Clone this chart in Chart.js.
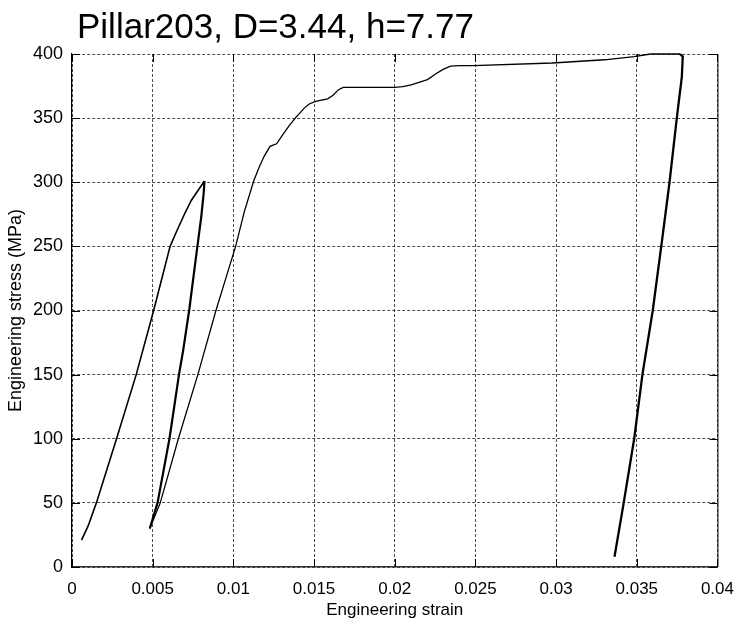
<!DOCTYPE html>
<html>
<head>
<meta charset="utf-8">
<script src="https://cdn.jsdelivr.net/npm/chart.js@4/dist/chart.umd.min.js"></script>
<style>
  html, body { margin: 0; padding: 0; background: #fff; }
  #wrap { width: 746px; height: 626px; position: relative; }
</style>
</head>
<body>
<div id="wrap"><canvas id="c" width="746" height="626"></canvas></div>
<script>
// Labels
const chartTitle = 'Pillar203, D=3.44, h=7.77';
const xAxisTitle = 'Engineering strain';
const yAxisTitle = 'Engineering stress (MPa)';
const xTickLabels = ['0', '0.005', '0.01', '0.015', '0.02', '0.025', '0.03', '0.035', '0.04'];
const yTickLabels = ['0', '50', '100', '150', '200', '250', '300', '350', '400'];

// First loading to 300 MPa
const load1Strain = [0.00059, 0.00100, 0.00151, 0.00276, 0.00398, 0.00506, 0.00608, 0.00646, 0.00700, 0.00740, 0.00821];
const load1Stress = [21, 32, 50, 100, 150, 200, 250, 261, 276, 286, 301];

// Partial unloading
const unload1Strain = [0.00821, 0.00815, 0.00800, 0.00777, 0.00726, 0.00689, 0.00663, 0.00604, 0.00530, 0.00482];
const unload1Stress = [301, 290, 272, 250, 200, 169, 150, 100, 50, 30];

// Reloading, yielding and plastic flow
const reloadStrain = [0.00482, 0.00547, 0.00659, 0.00780, 0.00892, 0.01014, 0.01070, 0.01126, 0.01157, 0.01190,
  0.01227, 0.01268, 0.01300, 0.01345, 0.01390, 0.01441, 0.01470, 0.01510, 0.01584, 0.01620,
  0.01650, 0.01680, 0.02000, 0.02050, 0.02102, 0.02203, 0.02260, 0.02300, 0.02346, 0.02400,
  0.02488, 0.02976, 0.03300, 0.03484, 0.03585, 0.03768];
const reloadStress = [30, 50, 100, 150, 200, 250, 278, 301, 311, 320,
  328, 330, 336, 344, 351, 358, 361, 363, 365, 368,
  372, 374, 374, 374.5, 376, 380, 385, 388, 390.5, 391,
  391, 393, 395.5, 398, 400, 400];

// Final unloading
const unload2Strain = [0.03768, 0.03785, 0.03779, 0.03748, 0.03703, 0.03657, 0.03599, 0.03535, 0.03484, 0.03419, 0.03362];
const unload2Stress = [400, 398, 382, 350, 300, 255, 200, 150, 100, 50, 8];

const FONT = '"Liberation Sans", Arial, Helvetica, sans-serif';

function pts(xs, ys) { return xs.map((x, i) => ({ x: x, y: ys[i] })); }

function lineSet(label, xs, ys, w) {
  return {
    label: label,
    data: pts(xs, ys),
    showLine: true,
    borderColor: '#000',
    backgroundColor: '#000',
    borderWidth: w,
    pointRadius: 0,
    tension: 0,
    clip: 4
  };
}

// Inward tick marks, a solid right edge and the title text
const framePlugin = {
  id: 'frame',
  afterDraw(chart) {
    const { ctx, chartArea: a, scales: { x, y } } = chart;
    const len = 8;
    ctx.save();
    ctx.strokeStyle = '#000';
    ctx.lineWidth = 1;
    ctx.beginPath();
    ctx.moveTo(a.right + 0.5, a.top);
    ctx.lineTo(a.right + 0.5, a.bottom);
    x.ticks.forEach(t => {
      const px = Math.round(x.getPixelForValue(t.value)) + 0.5;
      ctx.moveTo(px, a.bottom); ctx.lineTo(px, a.bottom - len);
      ctx.moveTo(px, a.top); ctx.lineTo(px, a.top + len);
    });
    y.ticks.forEach(t => {
      const py = Math.round(y.getPixelForValue(t.value)) + 0.5;
      ctx.moveTo(a.left, py); ctx.lineTo(a.left + len, py);
      ctx.moveTo(a.right, py); ctx.lineTo(a.right - len, py);
    });
    ctx.stroke();

    ctx.fillStyle = '#000';
    ctx.font = '35px ' + FONT;
    ctx.textAlign = 'left';
    ctx.textBaseline = 'alphabetic';
    ctx.fillText(chartTitle, a.left + 5, 38);
    ctx.restore();
  }
};

new Chart(document.getElementById('c'), {
  type: 'scatter',
  data: {
    datasets: [
      lineSet('Loading', load1Strain, load1Stress, 1.6),
      lineSet('Unloading', unload1Strain, unload1Stress, 2.2),
      lineSet('Reloading', reloadStrain, reloadStress, 1.3),
      lineSet('Final unloading', unload2Strain, unload2Stress, 2.3)
    ]
  },
  options: {
    responsive: false,
    animation: false,
    devicePixelRatio: 1,
    layout: { padding: { left: 0, right: 18, top: 54, bottom: 0 } },
    plugins: { legend: { display: false }, tooltip: { enabled: false }, title: { display: false } },
    scales: {
      x: {
        type: 'linear',
        min: 0, max: 0.04,
        afterFit(s) { s.height = 59; },
        afterBuildTicks(s) { s.ticks = xTickLabels.map(v => ({ value: parseFloat(v) })); },
        ticks: {
          color: '#000',
          font: { family: FONT, size: 17 },
          padding: 12,
          maxRotation: 0,
          autoSkip: false,
          callback: (v, i) => xTickLabels[i]
        },
        grid: { color: 'rgba(0,0,0,0.7)', lineWidth: 1, drawTicks: false },
        border: { display: true, color: '#333', width: 1.5, dash: [3, 2] },
        title: { display: true, text: xAxisTitle, color: '#000', font: { family: FONT, size: 17 }, padding: { top: 0, bottom: 5 } }
      },
      y: {
        type: 'linear',
        min: 0, max: 400,
        afterFit(s) { s.width = 72; },
        afterBuildTicks(s) { s.ticks = yTickLabels.map(v => ({ value: parseFloat(v) })); },
        ticks: {
          color: '#000',
          font: { family: FONT, size: 18 },
          padding: 9,
          autoSkip: false,
          callback: (v, i) => yTickLabels[i]
        },
        grid: { color: 'rgba(0,0,0,0.7)', lineWidth: 1, drawTicks: false },
        border: { display: true, color: '#000', width: 1.2, dash: [3, 2] },
        title: { display: true, text: yAxisTitle, color: '#000', font: { family: FONT, size: 18 }, padding: { top: 5.5, bottom: 0 } }
      }
    }
  },
  plugins: [framePlugin]
});
</script>
</body>
</html>
